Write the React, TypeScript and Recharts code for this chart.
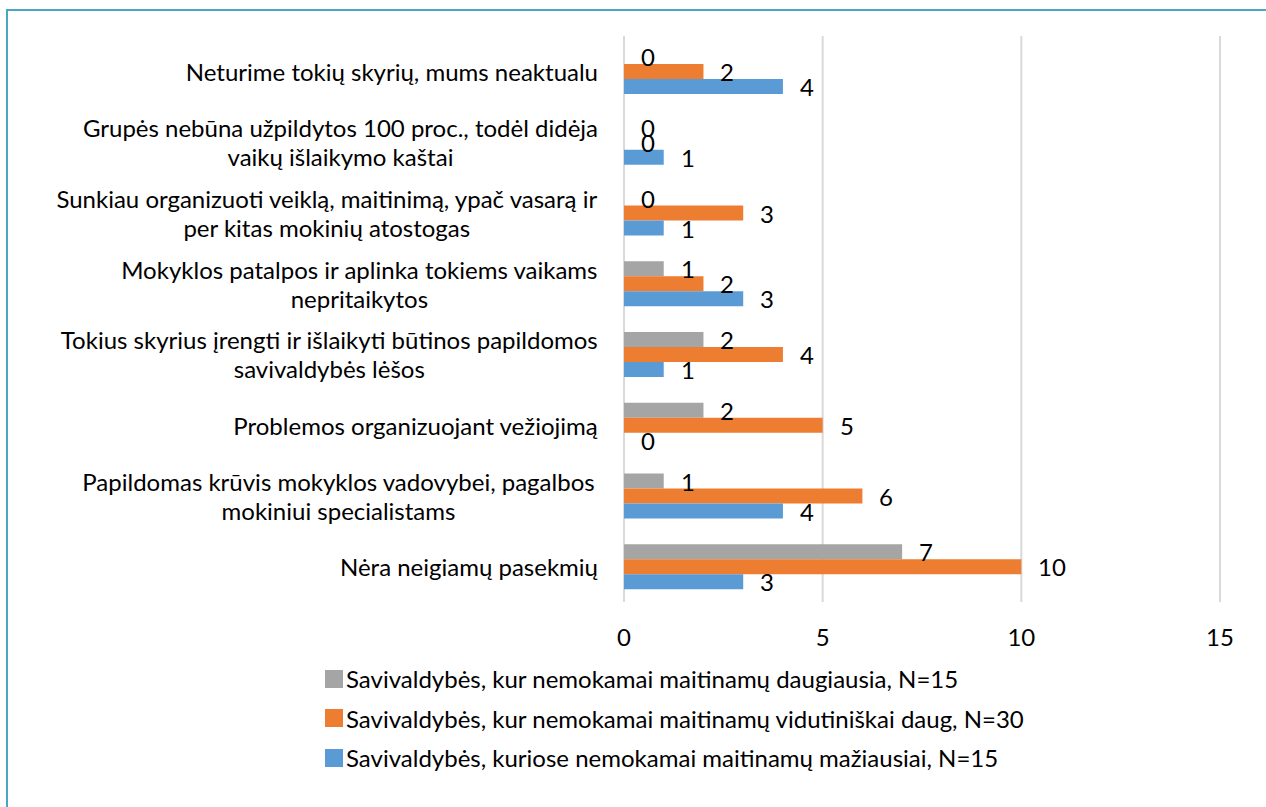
import { BarChart, Bar, XAxis, YAxis, CartesianGrid, LabelList } from "recharts";

const categories = [
  ["Neturime tokių skyrių, mums neaktualu"],
  ["Grupės nebūna užpildytos 100 proc., todėl didėja", "vaikų išlaikymo kaštai"],
  ["Sunkiau organizuoti veiklą, maitinimą, ypač vasarą ir", "per kitas mokinių atostogas"],
  ["Mokyklos patalpos ir aplinka tokiems vaikams", "nepritaikytos"],
  ["Tokius skyrius įrengti ir išlaikyti būtinos papildomos", "savivaldybės lėšos"],
  ["Problemos organizuojant vežiojimą"],
  ["Papildomas krūvis mokyklos vadovybei,  pagalbos", "mokiniui specialistams"],
  ["Nėra neigiamų pasekmių"],
];

const most = [0, 0, 0, 1, 2, 2, 1, 7];
const medium = [2, 0, 3, 2, 4, 5, 6, 10];
const least = [4, 1, 1, 3, 1, 0, 4, 3];

const xTicks = [0, 5, 10, 15];

const series = [
  { key: "most", name: "Savivaldybės, kur nemokamai maitinamų daugiausia, N=15", color: "#A5A5A5" },
  { key: "medium", name: "Savivaldybės, kur nemokamai maitinamų vidutiniškai daug, N=30", color: "#ED7D31" },
  { key: "least", name: "Savivaldybės, kuriose nemokamai maitinamų mažiausiai, N=15", color: "#5B9BD5" },
];

const data = categories.map((lines, i) => ({
  name: lines.join("\n"),
  most: most[i],
  medium: medium[i],
  least: least[i],
}));

const FONT = "Lato, 'Open Sans', sans-serif";
const FS = 24;

let ctx: CanvasRenderingContext2D | null = null;
function textWidth(s: string) {
  if (!ctx) ctx = document.createElement("canvas").getContext("2d");
  if (!ctx) return s.length * FS * 0.5;
  ctx.font = `${FS}px Lato`;
  return ctx.measureText(s).width;
}

function CategoryTick(props: any) {
  const { x, y, payload } = props;
  const lines: string[] = String(payload.value).split("\n");
  const w = Math.max(...lines.map(textWidth));
  const right = x - 18;
  const cx = right - w / 2;
  const lh = 29;
  const top = y - ((lines.length - 1) * lh) / 2;
  return (
    <text fill="#000" fontSize={FS} fontFamily={FONT} textAnchor="middle">
      {lines.map((l, i) => (
        <tspan key={i} x={cx} y={top + i * lh} dominantBaseline="central">
          {l}
        </tspan>
      ))}
    </text>
  );
}

function ValueTick(props: any) {
  const { x, y, payload } = props;
  return (
    <text x={x} y={y + 26} fill="#000" fontSize={FS} fontFamily={FONT} textAnchor="middle" dominantBaseline="central">
      {payload.value}
    </text>
  );
}

function BarValue(props: any) {
  const { x, y, width, height, value } = props;
  return (
    <text
      x={x + Math.round(width) + 17}
      y={y + height / 2}
      fill="#000"
      fontSize={FS}
      fontFamily={FONT}
      dominantBaseline="central"
    >
      {value}
    </text>
  );
}

export default function App() {
  return (
    <div
      style={{
        position: "absolute",
        left: 0,
        top: 0,
        width: 1266,
        height: 807,
        overflow: "hidden",
        background: "#fff",
        fontFamily: FONT,
      }}
    >
      <div
        style={{
          position: "absolute",
          left: 6,
          top: 9,
          width: 1400,
          height: 1000,
          border: "2px solid #4BA5C6",
        }}
      />
      <div style={{ position: "absolute", left: 0, top: 0 }}>
        <BarChart
          width={1266}
          height={807}
          data={data}
          layout="vertical"
          margin={{ top: 36, right: 46, left: 0, bottom: 175 }}
          barSize={15}
          barGap={0}
        >
          <CartesianGrid horizontal={false} stroke="#D9D9D9" strokeWidth={2} />
          <XAxis
            type="number"
            domain={[0, 15]}
            ticks={xTicks}
            axisLine={false}
            tickLine={false}
            tick={<ValueTick />}
            height={30}
          />
          <YAxis
            type="category"
            dataKey="name"
            width={624}
            axisLine={false}
            tickLine={false}
            tick={<CategoryTick />}
            interval={0}
          />
          {series.map((s) => (
            <Bar
              key={s.key}
              dataKey={s.key}
              name={s.name}
              fill={s.color}
              minPointSize={0.001}
              isAnimationActive={false}
            >
              <LabelList dataKey={s.key} content={<BarValue />} />
            </Bar>
          ))}
        </BarChart>
      </div>
      <div style={{ position: "absolute", left: 325, top: 659 }}>
        {series.map((s) => (
          <div key={s.key} style={{ display: "flex", alignItems: "center", height: 39.5 }}>
            <div style={{ width: 18, height: 18, background: s.color, marginRight: 3 }} />
            <span style={{ fontSize: FS, color: "#000", whiteSpace: "nowrap" }}>{s.name}</span>
          </div>
        ))}
      </div>
    </div>
  );
}
